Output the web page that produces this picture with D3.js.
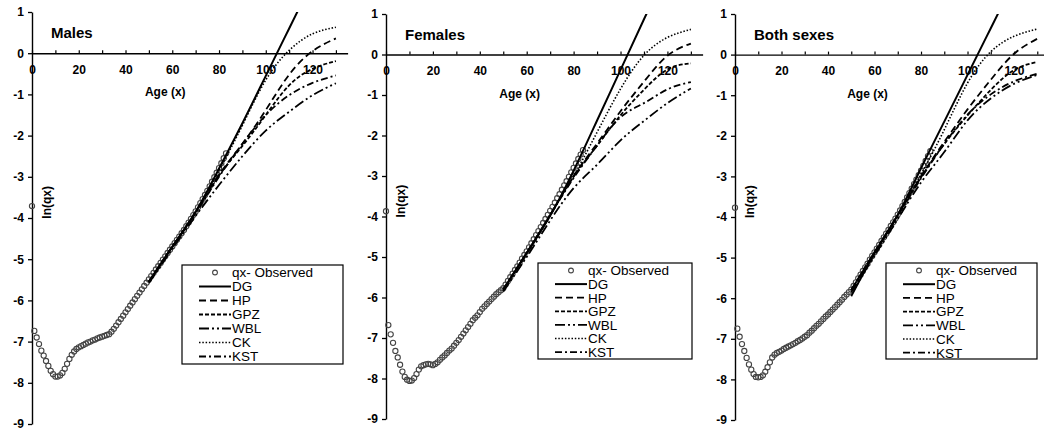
<!DOCTYPE html>
<html>
<head>
<meta charset="utf-8">
<script src="https://cdn.jsdelivr.net/npm/d3@7"></script>
<style>
  body { margin: 0; background: #fff; }
  svg { display: block; font-family: "Liberation Sans", Arial, sans-serif; }
  .tick text { font-family: "Liberation Sans", Arial, sans-serif; font-size: 12px; font-weight: bold; fill: #000; }
</style>
</head>
<body>
<svg id="chart" width="1044" height="432"></svg>
<script>
// Observed ln(qx) by single year of age (index = age)
const obsMales = [
  -3.71, -6.74, -6.90, -7.06, -7.22, -7.34, -7.47, -7.59, -7.71, -7.79,
  -7.85, -7.85, -7.82, -7.76, -7.66, -7.54, -7.42, -7.32, -7.24, -7.18,
  -7.14, -7.11, -7.08, -7.05, -7.02, -7.00, -6.97, -6.95, -6.92, -6.90,
  -6.88, -6.86, -6.84, -6.82, -6.76, -6.69, -6.61, -6.53, -6.45, -6.37,
  -6.29, -6.21, -6.13, -6.05, -5.97, -5.89, -5.81, -5.73, -5.65, -5.57,
  -5.49, -5.41, -5.33, -5.25, -5.17, -5.09, -5.01, -4.93, -4.85, -4.77,
  -4.69, -4.61, -4.53, -4.45, -4.37, -4.29, -4.20, -4.11, -4.02, -3.93,
  -3.84, -3.74, -3.64, -3.54, -3.44, -3.34, -3.23, -3.12, -3.01, -2.90,
  -2.79, -2.67, -2.55, -2.43
];
const obsFemales = [
  -3.87, -6.68, -6.91, -7.12, -7.32, -7.48, -7.66, -7.83, -7.96, -8.03,
  -8.06, -8.05, -7.99, -7.89, -7.78, -7.70, -7.67, -7.65, -7.64, -7.65,
  -7.67, -7.64, -7.60, -7.54, -7.48, -7.43, -7.37, -7.31, -7.26, -7.19,
  -7.12, -7.05, -6.97, -6.89, -6.81, -6.73, -6.65, -6.56, -6.50, -6.44,
  -6.36, -6.28, -6.22, -6.16, -6.10, -6.04, -5.98, -5.92, -5.87, -5.82,
  -5.77, -5.68, -5.59, -5.50, -5.41, -5.32, -5.23, -5.14, -5.04, -4.95,
  -4.86, -4.76, -4.66, -4.56, -4.46, -4.36, -4.26, -4.16, -4.06, -3.96,
  -3.86, -3.76, -3.66, -3.55, -3.45, -3.34, -3.23, -3.13, -3.02, -2.91,
  -2.80, -2.69, -2.58, -2.47, -2.36
];
const obsBoth = [
  -3.77, -6.75, -6.95, -7.13, -7.30, -7.47, -7.63, -7.76, -7.87, -7.94,
  -7.95, -7.94, -7.90, -7.81, -7.70, -7.58, -7.46, -7.39, -7.35, -7.32,
  -7.29, -7.25, -7.22, -7.19, -7.16, -7.13, -7.10, -7.06, -7.03, -6.99,
  -6.95, -6.91, -6.85, -6.80, -6.74, -6.68, -6.63, -6.57, -6.51, -6.45,
  -6.40, -6.34, -6.28, -6.22, -6.16, -6.10, -6.04, -5.97, -5.91, -5.85,
  -5.79, -5.70, -5.61, -5.51, -5.42, -5.33, -5.24, -5.15, -5.05, -4.96,
  -4.87, -4.78, -4.69, -4.59, -4.50, -4.41, -4.32, -4.22, -4.13, -4.04,
  -3.94, -3.84, -3.73, -3.63, -3.52, -3.41, -3.30, -3.19, -3.08, -2.97,
  -2.86, -2.74, -2.62, -2.50, -2.38
];

// Fitted model curves, read at these ages
const fitAges = [50, 60, 70, 80, 90, 100, 110, 120, 130];

const maleDG  = [-5.55, -4.70, -3.85, -2.80, -1.70, -0.55, 0.60, 1.75, 2.90];
const maleHP  = [-5.55, -4.70, -3.85, -2.95, -2.20, -1.38, -0.52, 0.05, 0.36];
const maleGPZ = [-5.55, -4.70, -3.86, -2.97, -2.25, -1.50, -0.78, -0.38, -0.19];
const maleWBL = [-5.58, -4.75, -3.95, -3.20, -2.50, -1.88, -1.42, -1.02, -0.73];
const maleCK  = [-5.55, -4.70, -3.85, -2.85, -1.75, -0.65, 0.07, 0.47, 0.63];
const maleKST = [-5.55, -4.70, -3.88, -3.00, -2.20, -1.50, -1.02, -0.72, -0.54];

const femaleDG  = [-5.82, -4.90, -3.98, -2.87, -1.63, -0.38, 0.87, 2.10, 3.35];
const femaleHP  = [-5.80, -4.90, -3.96, -3.00, -2.20, -1.40, -0.67, -0.03, 0.27];
const femaleGPZ = [-5.80, -4.90, -3.96, -3.02, -2.25, -1.50, -0.87, -0.37, -0.22];
const femaleWBL = [-5.85, -5.00, -4.10, -3.30, -2.72, -2.12, -1.64, -1.20, -0.84];
const femaleCK  = [-5.80, -4.90, -3.95, -3.00, -1.92, -0.85, -0.02, 0.42, 0.62];
const femaleKST = [-5.80, -4.90, -3.97, -3.05, -2.25, -1.55, -1.20, -0.86, -0.68];

const bothDG  = [-5.95, -4.90, -3.95, -2.80, -1.65, -0.50, 0.65, 1.80, 2.95];
const bothHP  = [-5.80, -4.87, -3.95, -3.00, -2.15, -1.35, -0.62, 0.02, 0.39];
const bothGPZ = [-5.80, -4.87, -3.95, -3.02, -2.20, -1.50, -0.87, -0.38, -0.18];
const bothWBL = [-5.85, -4.95, -4.05, -3.15, -2.40, -1.62, -1.08, -0.72, -0.50];
const bothCK  = [-5.80, -4.87, -3.95, -2.95, -1.85, -0.70, 0.07, 0.45, 0.63];
const bothKST = [-5.80, -4.87, -3.97, -3.05, -2.20, -1.48, -0.98, -0.66, -0.47];

const modelNames = ['DG', 'HP', 'GPZ', 'WBL', 'CK', 'KST'];
const xTicks = [0, 10, 20, 30, 40, 50, 60, 70, 80, 90, 100, 110, 120, 130];
const xLabels = [0, 20, 40, 60, 80, 100, 120];
const yTicks = [1, 0, -1, -2, -3, -4, -5, -6, -7, -8, -9];

// Line styles for each model
const modelStyle = {
  DG:  { dash: null,            width: 2 },
  HP:  { dash: '7,4',           width: 1.8 },
  GPZ: { dash: '4,2',           width: 1.8 },
  WBL: { dash: '10,3,2,3,2,3',  width: 1.8 },
  CK:  { dash: '1.5,1.8',       width: 1.6 },
  KST: { dash: '7,3,2,3',       width: 1.8 }
};

// Panel layout (pixel boxes) kept apart from the data
const panels = [
  { title: 'Males', obs: obsMales,
    fits: { DG: maleDG, HP: maleHP, GPZ: maleGPZ, WBL: maleWBL, CK: maleCK, KST: maleKST },
    left: 32, right: 347.6, top: 12, bottom: 424,
    legend: { x: 182, y: 265, w: 161, h: 99, step: 14 } },
  { title: 'Females', obs: obsFemales,
    fits: { DG: femaleDG, HP: femaleHP, GPZ: femaleGPZ, WBL: femaleWBL, CK: femaleCK, KST: femaleKST },
    left: 386, right: 702.6, top: 14, bottom: 419,
    legend: { x: 538, y: 263, w: 154, h: 96, step: 13.6 } },
  { title: 'Both sexes', obs: obsBoth,
    fits: { DG: bothDG, HP: bothHP, GPZ: bothGPZ, WBL: bothWBL, CK: bothCK, KST: bothKST },
    left: 735, right: 1048.9, top: 14, bottom: 420,
    legend: { x: 886, y: 263, w: 151, h: 96, step: 13.7 } }
];

const svg = d3.select('#chart');
const plainNum = d => String(d);   // keep ASCII hyphen for negatives

function drawPanel(p, i) {
  const x = d3.scaleLinear().domain([0, 135]).range([p.left, p.right]);
  const y = d3.scaleLinear().domain([-9, 1]).range([p.bottom, p.top]);
  const g = svg.append('g');

  const clipId = 'clip' + i;
  svg.append('clipPath').attr('id', clipId)
    .append('rect')
    .attr('x', x(0)).attr('y', y(1))
    .attr('width', x(135) - x(0)).attr('height', y(-9) - y(1));

  // x axis through zero: ticks every 10 pointing up, labels below
  g.append('g')
    .attr('transform', `translate(0,${y(0)})`)
    .call(d3.axisBottom(x).tickValues(xTicks).tickSize(-3).tickSizeOuter(0).tickFormat(''))
    .call(a => a.select('.domain').attr('stroke-width', 1.4))
    .call(a => a.selectAll('line').attr('stroke-width', 1.2));
  g.append('g')
    .attr('transform', `translate(0,${y(0)})`)
    .call(d3.axisBottom(x).tickValues(xLabels).tickSize(0).tickPadding(12).tickFormat(plainNum))
    .call(a => a.select('.domain').remove());

  // y axis
  g.append('g')
    .attr('transform', `translate(${x(0)},0)`)
    .call(d3.axisLeft(y).tickValues(yTicks).tickSize(4).tickPadding(4).tickSizeOuter(0).tickFormat(plainNum))
    .call(a => a.select('.domain').attr('stroke-width', 1.4))
    .call(a => a.selectAll('line').attr('stroke-width', 1.3));

  // titles and axis labels
  g.append('text')
    .attr('x', x(0) + 19).attr('y', y(0.36))
    .style('font-size', '15px').style('font-weight', 'bold')
    .text(p.title);
  g.append('text')
    .attr('x', x(57)).attr('y', y(0) + 43)
    .attr('text-anchor', 'middle')
    .style('font-size', '12px').style('font-weight', 'bold')
    .text('Age (x)');
  g.append('text')
    .attr('transform', `translate(${x(0) + 19},${y(-3.62)}) rotate(-90)`)
    .attr('text-anchor', 'middle')
    .style('font-size', '12px').style('font-weight', 'bold')
    .text('ln(qx)');

  // observed points
  g.append('g').selectAll('circle')
    .data(p.obs)
    .join('circle')
    .attr('cx', (d, age) => x(age))
    .attr('cy', d => y(d))
    .attr('r', 2.6)
    .attr('fill', 'none')
    .attr('stroke', '#444')
    .attr('stroke-width', 1.1);

  // fitted curves
  const line = d3.line()
    .x(d => x(d[0]))
    .y(d => y(d[1]))
    .curve(d3.curveNatural);

  const curves = g.append('g').attr('clip-path', `url(#${clipId})`);
  modelNames.forEach(name => {
    const pts = fitAges.map((a, k) => [a, p.fits[name][k]]);
    const st = modelStyle[name];
    curves.append('path')
      .attr('d', line(pts))
      .attr('fill', 'none')
      .attr('stroke', '#000')
      .attr('stroke-width', st.width)
      .attr('stroke-dasharray', st.dash);
  });

  // legend
  const L = p.legend;
  const lg = g.append('g');
  lg.append('rect')
    .attr('x', L.x).attr('y', L.y).attr('width', L.w).attr('height', L.h)
    .attr('fill', '#fff').attr('stroke', '#000').attr('stroke-width', 1.2);

  const rows = ['qx- Observed'].concat(modelNames);
  rows.forEach((label, r) => {
    const cy = L.y + 7.5 + r * L.step;
    if (r === 0) {
      lg.append('circle')
        .attr('cx', L.x + 33).attr('cy', cy).attr('r', 2.4)
        .attr('fill', 'none').attr('stroke', '#444').attr('stroke-width', 1.1);
    } else {
      const st = modelStyle[label];
      lg.append('line')
        .attr('x1', L.x + 17).attr('x2', L.x + 49)
        .attr('y1', cy).attr('y2', cy)
        .attr('stroke', '#000')
        .attr('stroke-width', st.width)
        .attr('stroke-dasharray', st.dash);
    }
    lg.append('text')
      .attr('x', L.x + 50).attr('y', cy).attr('dy', '0.36em')
      .style('font-size', '13.5px')
      .text(label);
  });
}

panels.forEach(drawPanel);
</script>
</body>
</html>
